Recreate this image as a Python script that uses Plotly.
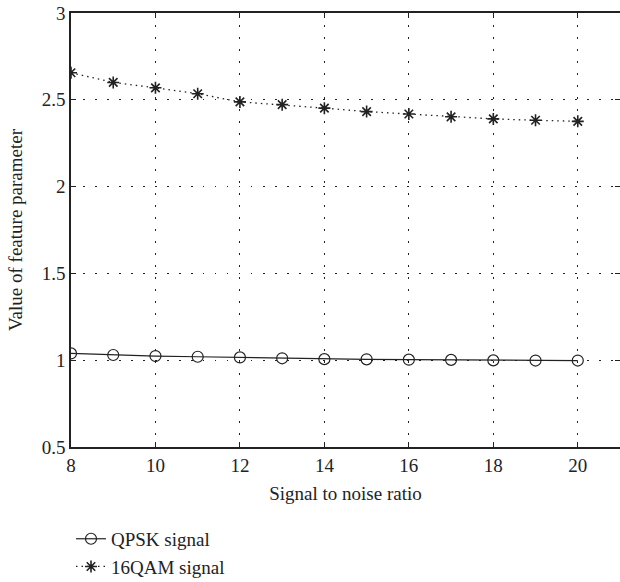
import plotly.graph_objects as go

snr = [8, 9, 10, 11, 12, 13, 14, 15, 16, 17, 18, 19, 20]
qpsk = [1.039, 1.030, 1.024, 1.020, 1.016, 1.011, 1.006, 1.005, 1.003, 1.002, 0.999, 0.998, 0.998]
qam16 = [2.656, 2.600, 2.569, 2.535, 2.488, 2.472, 2.452, 2.432, 2.418, 2.402, 2.390, 2.382, 2.376]

x_ticks = [8, 10, 12, 14, 16, 18, 20]
y_ticks = [0.5, 1, 1.5, 2, 2.5, 3]
y_tick_text = ["0.5", "1", "1.5", "2", "2.5", "3"]

FONT = "Liberation Serif, Times New Roman, serif"

fig = go.Figure()
fig.add_trace(go.Scatter(
    x=snr, y=qpsk, name="QPSK signal", mode="lines+markers",
    line=dict(color="#222222", width=1.2),
    marker=dict(symbol="circle-open", size=11, color="#222222", line=dict(width=1.2)),
))
fig.add_trace(go.Scatter(
    x=snr, y=qam16, name="16QAM signal", mode="lines+markers",
    line=dict(color="#222222", width=1.3, dash="1.5px,4px"),
    marker=dict(symbol="asterisk-open", size=10, color="#222222", line=dict(width=1.6, color="#222222")),
))

axis_common = dict(
    showline=True, linecolor="#222222", linewidth=1.5, mirror="ticks",
    ticks="inside", ticklen=5, tickcolor="#222222",
    showgrid=True, gridcolor="#222222", griddash="1.5px,10.5px", gridwidth=1.3,
    zeroline=False,
    tickfont=dict(family=FONT, size=19, color="#222222"),
)

fig.update_xaxes(
    range=[8, 21], tickvals=x_ticks,
    title=dict(text="Signal to noise ratio", font=dict(family=FONT, size=19, color="#222222"), standoff=12),
    **axis_common,
)
fig.update_yaxes(
    range=[0.5, 3], tickvals=y_ticks, ticktext=y_tick_text,
    title=dict(text="Value of feature parameter", font=dict(family=FONT, size=19, color="#222222"), standoff=14),
    **axis_common,
)

fig.update_layout(
    width=620, height=582,
    margin=dict(l=71, r=0, t=13, b=135, autoexpand=False),
    plot_bgcolor="white", paper_bgcolor="white",
    font=dict(family=FONT, color="#222222"),
    showlegend=True,
    legend=dict(
        x=0.0, y=-0.168, xanchor="left", yanchor="top",
        font=dict(family=FONT, size=19, color="#222222"),
        bgcolor="rgba(0,0,0,0)", tracegroupgap=0, itemwidth=30,
    ),
)

fig.write_html("out.html")
